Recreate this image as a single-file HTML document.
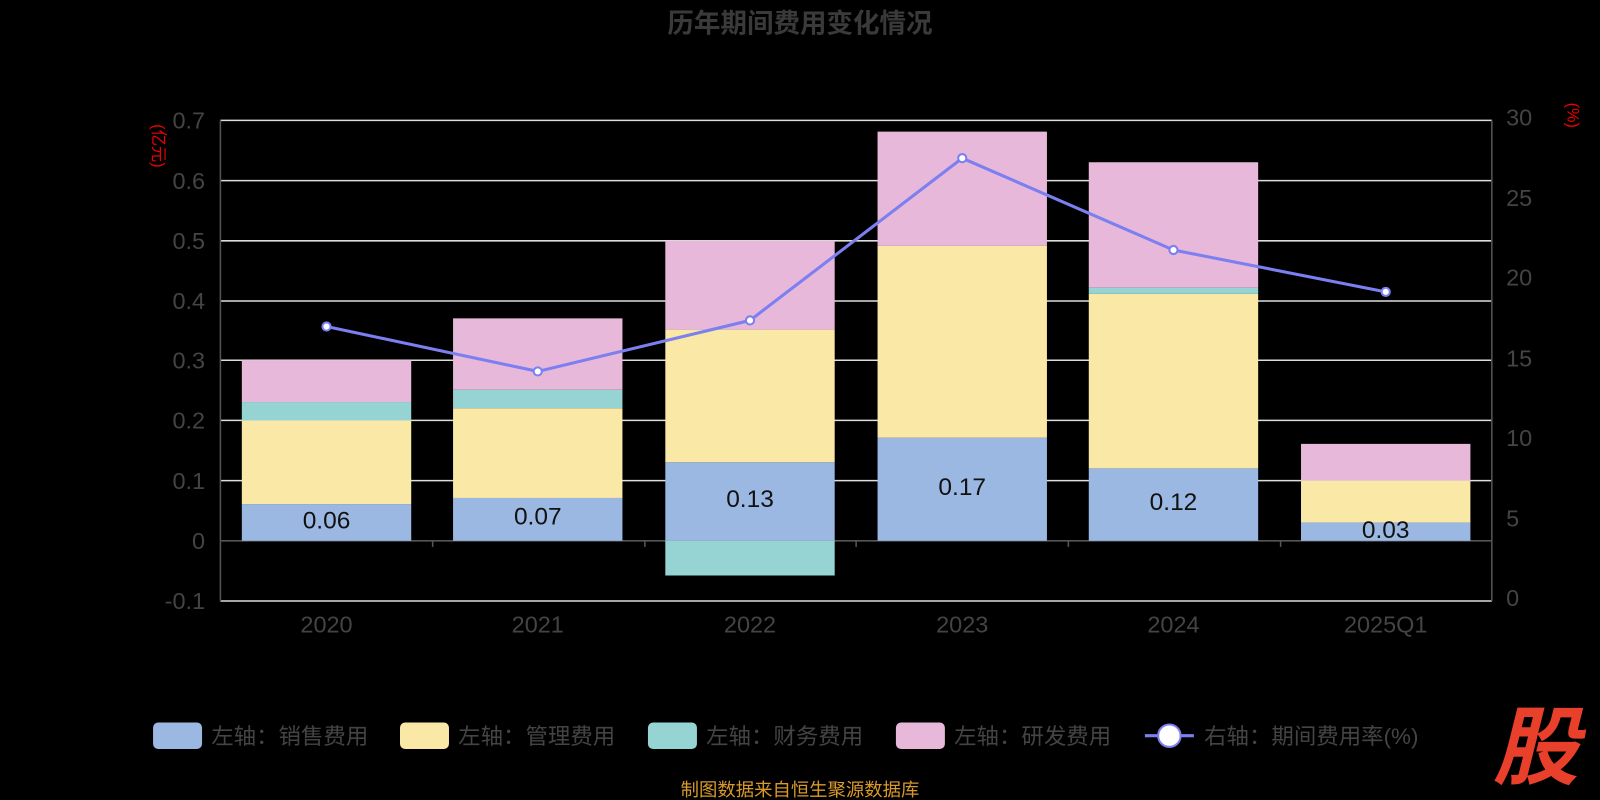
<!DOCTYPE html><html><head><meta charset="utf-8"><style>body{margin:0;background:#000}svg{display:block}text{font-family:"Liberation Sans","Noto Sans CJK SC",sans-serif}</style></head><body>
<svg width="1600" height="800" viewBox="0 0 1568 784" preserveAspectRatio="none" xmlns="http://www.w3.org/2000/svg">
<rect width="1568" height="784" fill="#000"/>
<text x="784" y="32" text-anchor="middle" font-size="26" font-weight="bold" fill="#3a3a3a">历年期间费用变化情况</text>
<g stroke="#ddd" stroke-width="1.5">
<line x1="216" x2="1462" y1="118" y2="118"/><line x1="216" x2="1462" y1="177" y2="177"/><line x1="216" x2="1462" y1="236" y2="236"/><line x1="216" x2="1462" y1="295" y2="295"/><line x1="216" x2="1462" y1="353" y2="353"/><line x1="216" x2="1462" y1="412" y2="412"/><line x1="216" x2="1462" y1="471" y2="471"/><line x1="216" x2="1462" y1="589" y2="589"/>
</g>
<g stroke="#555" stroke-width="1.5"><line x1="216" x2="216" y1="118" y2="589"/><line x1="1462" x2="1462" y1="118" y2="589"/><line x1="216" x2="1462" y1="530" y2="530"/>
<line x1="424" x2="424" y1="530" y2="536"/><line x1="632" x2="632" y1="530" y2="536"/><line x1="839" x2="839" y1="530" y2="536"/><line x1="1047" x2="1047" y1="530" y2="536"/><line x1="1255" x2="1255" y1="530" y2="536"/></g>
<g font-size="23" fill="#444" text-anchor="end">
<text x="201" y="126">0.7</text><text x="201" y="185">0.6</text><text x="201" y="244">0.5</text><text x="201" y="303">0.4</text><text x="201" y="361">0.3</text><text x="201" y="420">0.2</text><text x="201" y="479">0.1</text><text x="201" y="538">0</text><text x="201" y="597">-0.1</text></g>
<g font-size="23" fill="#444"><text x="1476" y="123">30</text><text x="1476" y="202">25</text><text x="1476" y="280">20</text><text x="1476" y="359">15</text><text x="1476" y="437">10</text><text x="1476" y="516">5</text><text x="1476" y="594">0</text></g>
<text transform="translate(150,143) rotate(90)" font-size="16" fill="#e00" text-anchor="middle">(亿元)</text>
<text transform="translate(1536,113) rotate(90)" font-size="16" fill="#e00" text-anchor="middle">(%)</text>
<g font-size="23" fill="#444" text-anchor="middle"><text x="320" y="620">2020</text><text x="527" y="620">2021</text><text x="735" y="620">2022</text><text x="943" y="620">2023</text><text x="1150" y="620">2024</text><text x="1358" y="620">2025Q1</text></g>
<g>
<rect x="237" y="494" width="166" height="36" fill="#9bb8e3"/><rect x="237" y="412" width="166" height="82" fill="#f9e8a6"/><rect x="237" y="394" width="166" height="18" fill="#96d4d4"/><rect x="237" y="353" width="166" height="41" fill="#e8b8da"/>
<rect x="444" y="488" width="166" height="42" fill="#9bb8e3"/><rect x="444" y="400" width="166" height="88" fill="#f9e8a6"/><rect x="444" y="382" width="166" height="18" fill="#96d4d4"/><rect x="444" y="312" width="166" height="70" fill="#e8b8da"/>
<rect x="652" y="453" width="166" height="77" fill="#9bb8e3"/><rect x="652" y="323" width="166" height="130" fill="#f9e8a6"/><rect x="652" y="530" width="166" height="34" fill="#96d4d4"/><rect x="652" y="236" width="166" height="87" fill="#e8b8da"/>
<rect x="860" y="429" width="166" height="101" fill="#9bb8e3"/><rect x="860" y="241" width="166" height="188" fill="#f9e8a6"/><rect x="860" y="129" width="166" height="112" fill="#e8b8da"/>
<rect x="1067" y="459" width="166" height="71" fill="#9bb8e3"/><rect x="1067" y="288" width="166" height="171" fill="#f9e8a6"/><rect x="1067" y="282" width="166" height="6" fill="#96d4d4"/><rect x="1067" y="159" width="166" height="123" fill="#e8b8da"/>
<rect x="1275" y="512" width="166" height="18" fill="#9bb8e3"/><rect x="1275" y="471" width="166" height="41" fill="#f9e8a6"/><rect x="1275" y="435" width="166" height="36" fill="#e8b8da"/>
</g>
<g font-size="24" fill="#111" text-anchor="middle"><text x="320" y="518">0.06</text><text x="527" y="514">0.07</text><text x="735" y="497">0.13</text><text x="943" y="485">0.17</text><text x="1150" y="500">0.12</text><text x="1358" y="527">0.03</text></g>
<polyline points="320,320 527,364 735,314 943,155 1150,245 1358,286" fill="none" stroke="#7b7ff0" stroke-width="3"/>
<g fill="#fff" stroke="#7b7ff0" stroke-width="2"><circle cx="320" cy="320" r="4"/><circle cx="527" cy="364" r="4"/><circle cx="735" cy="314" r="4"/><circle cx="943" cy="155" r="4"/><circle cx="1150" cy="245" r="4"/><circle cx="1358" cy="286" r="4"/></g>
<g font-size="22" fill="#444">
<rect x="150" y="708" width="48" height="26" rx="5" fill="#9bb8e3"/><text x="207" y="729">左轴：销售费用</text>
<rect x="392" y="708" width="48" height="26" rx="5" fill="#f9e8a6"/><text x="449" y="729">左轴：管理费用</text>
<rect x="635" y="708" width="48" height="26" rx="5" fill="#96d4d4"/><text x="692" y="729">左轴：财务费用</text>
<rect x="878" y="708" width="48" height="26" rx="5" fill="#e8b8da"/><text x="935" y="729">左轴：研发费用</text>
<line x1="1122" x2="1170" y1="721" y2="721" stroke="#7b7ff0" stroke-width="3"/><circle cx="1146" cy="721" r="11" fill="#fff" stroke="#7b7ff0" stroke-width="2"/><text x="1180" y="729">右轴：期间费用率(%)</text>
</g>
<text x="784" y="780" text-anchor="middle" font-size="18" fill="#d89a2a">制图数据来自恒生聚源数据库</text>
<text x="1505" y="762" text-anchor="middle" font-size="84" font-weight="bold" font-style="italic" fill="#e8402a">股</text>
</svg></body></html>
